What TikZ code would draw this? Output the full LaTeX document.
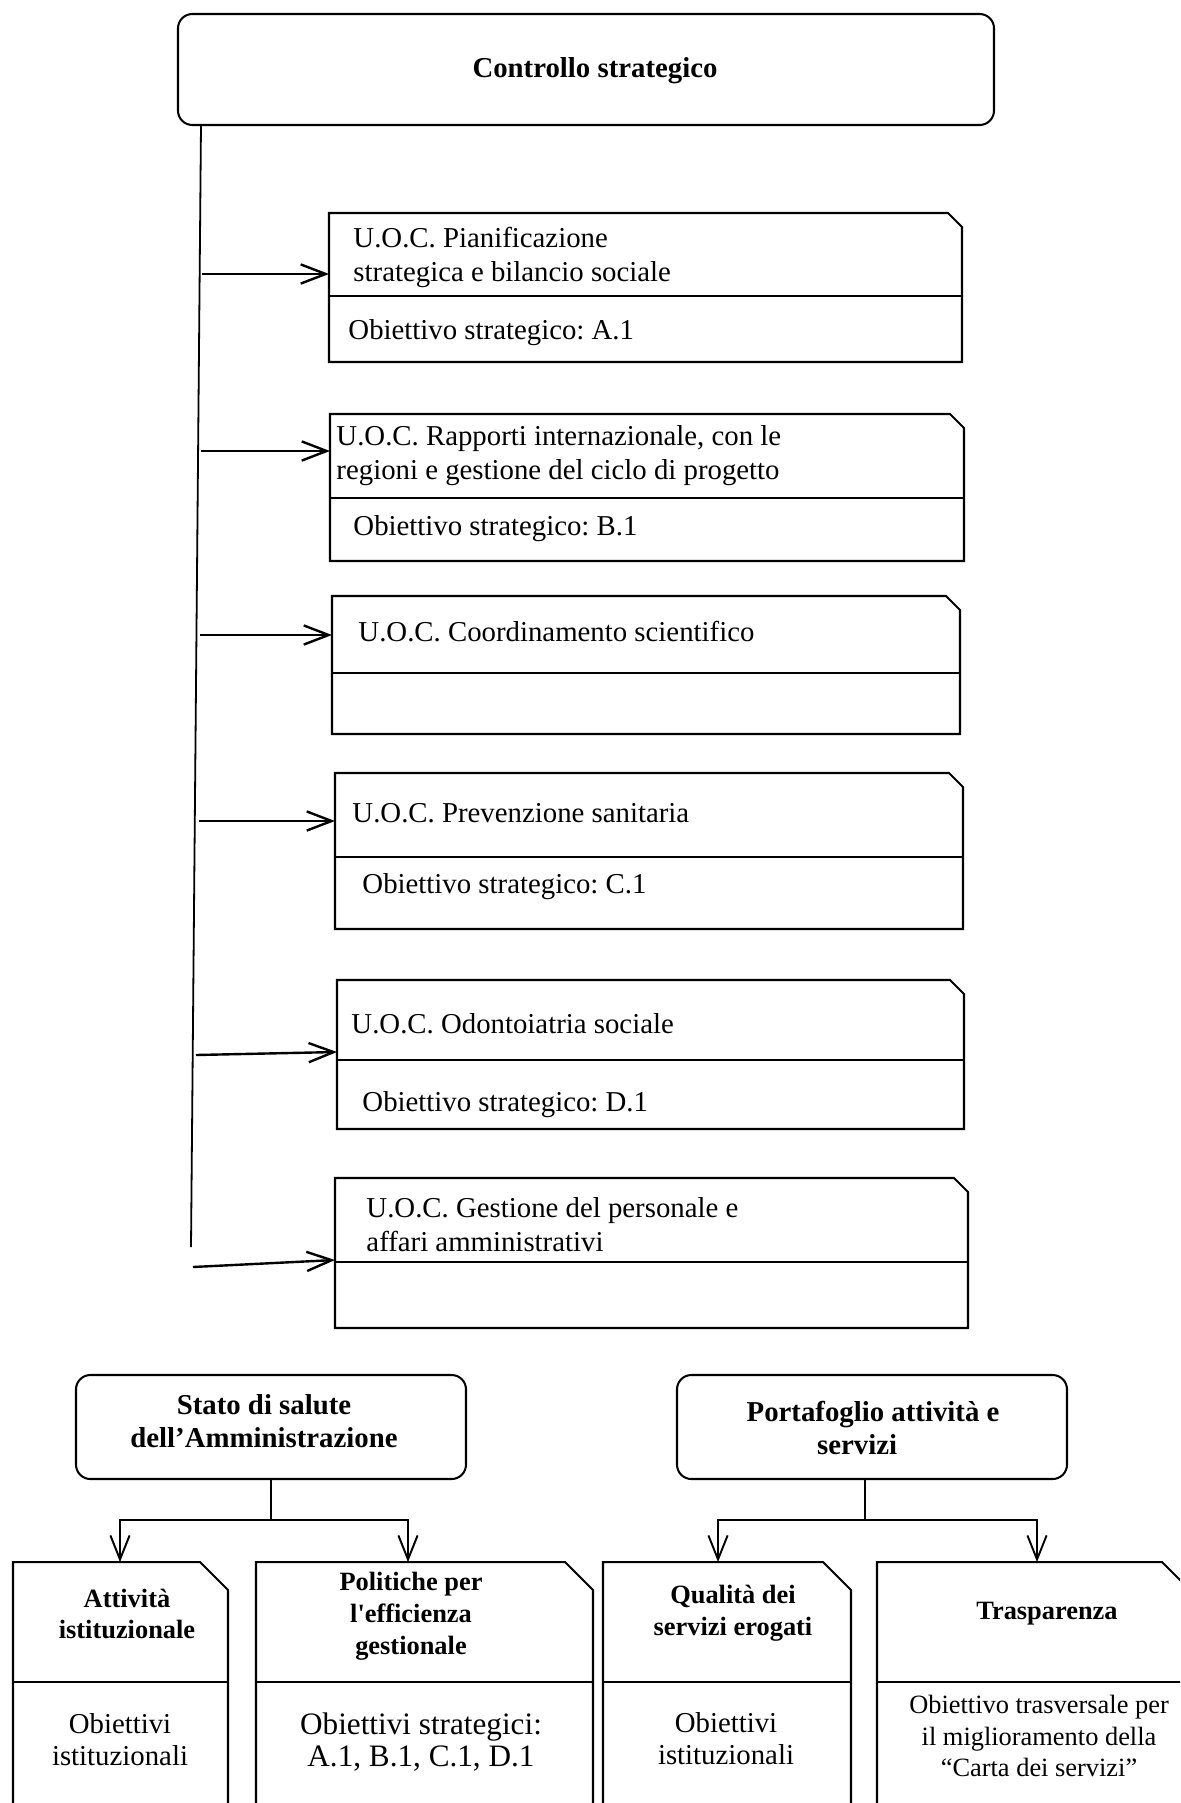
\documentclass[tikz,border=0pt]{standalone}
\usepackage{fontspec}
\setmainfont{Liberation Serif}
\usetikzlibrary{arrows.meta}
\frenchspacing

% one drawing unit = one pixel of the final image
\newcommand{\pxu}{0.416667pt}

\tikzset{
  boxline/.style={line width=0.85pt, line join=miter},
  rbox/.style={draw, line width=0.85pt, rounded corners=6pt, inner sep=0pt},
  trunk/.style={line width=0.75pt},
  arr/.style={line width=1pt, -{Straight Barb[length=10.4pt,width=8pt,line width=1pt]}},
  darr/.style={line width=0.8pt, -{Straight Barb[length=10pt,width=8pt,line width=0.8pt]}},
  uoc/.style={font=\fontsize{12}{14.17}\selectfont, inner sep=0pt, anchor=west, align=left},
  hdr/.style={font=\fontsize{12}{13.8}\selectfont\bfseries, inner sep=0pt, align=center},
  sub/.style={font=\fontsize{11}{13.3}\selectfont\bfseries, inner sep=0pt, align=center},
  note/.style={font=\fontsize{12}{13.3}\selectfont, inner sep=0pt, align=center},
}

% card with a chamfered top-right corner and a horizontal divider
% #1 name, #2 left, #3 top, #4 right, #5 bottom, #6 divider, #7 chamfer
\newcommand{\cardbox}[7]{%
  \draw[boxline] (#2,#5) -- (#2,#3) -- ({#4-#7},#3) -- (#4,{#3+#7}) -- (#4,#5) -- cycle;
  \draw[boxline] (#2,#6) -- (#4,#6);
  \coordinate (#1) at (#2,#3);
}

\begin{document}
\begin{tikzpicture}[x=\pxu, y=-\pxu]
\useasboundingbox (0,0) rectangle (1180,1803);
\clip (0,0) rectangle (1180,1803);

% ---------------- strategic control ----------------
\node[rbox, minimum width=816*\pxu, minimum height=111*\pxu] (ctrl) at (586,69.5) {};
\node[hdr] (ctrlT) at (595,71) {Controllo strategico};

\coordinate (tk0) at (201,125);
\coordinate (tk1) at (191,1247);
\draw[trunk] (tk0) -- (tk1);

% units
\cardbox{b1}{329}{213}{962}{362}{296}{14}
\node[uoc] (b1t) at (353,257) {U.O.C. Pianificazione\\strategica e bilancio sociale};
\node[uoc] (b1o) at (348,333) {Obiettivo strategico: A.1};

\cardbox{b2}{330}{414}{964}{561}{498}{14}
\node[uoc] (b2t) at (336,455.5) {U.O.C. Rapporti internazionale, con le\\regioni e gestione del ciclo di progetto};
\node[uoc] (b2o) at (353,529) {Obiettivo strategico: B.1};

\cardbox{b3}{332}{596}{960}{734}{673}{14}
\node[uoc] (b3t) at (358,632) {U.O.C. Coordinamento scientifico};

\cardbox{b4}{335}{773}{963}{929}{857}{14}
\node[uoc] (b4t) at (352,813) {U.O.C. Prevenzione sanitaria};
\node[uoc] (b4o) at (362,887) {Obiettivo strategico: C.1};

\cardbox{b5}{337}{980}{964}{1129}{1060}{14}
\node[uoc] (b5t) at (351,1024) {U.O.C. Odontoiatria sociale};
\node[uoc] (b5o) at (362,1105) {Obiettivo strategico: D.1};

\cardbox{b6}{335}{1178}{968}{1328}{1262}{14}
\node[uoc] (b6t) at (366,1225) {U.O.C. Gestione del personale e\\affari amministrativi};

% arrows from the trunk to the units
\coordinate (s1) at (202,274);  \coordinate (e1) at (329,274);
\coordinate (s2) at (201,451);  \coordinate (e2) at (330,451);
\coordinate (s3) at (200,635);  \coordinate (e3) at (332,635);
\coordinate (s4) at (199,821);  \coordinate (e4) at (335,821);
\coordinate (s5) at (196,1055); \coordinate (e5) at (337,1052);
\coordinate (s6) at (193,1267); \coordinate (e6) at (335,1260);
\foreach \i in {1,...,6} { \draw[arr] (s\i) -- (e\i); }

% ---------------- lower section ----------------
\node[rbox, minimum width=390*\pxu, minimum height=104*\pxu] (stato) at (271,1427) {};
\node[hdr] (statoT) at (264,1421) {Stato di salute\\dell’Amministrazione};

\node[rbox, minimum width=390*\pxu, minimum height=104*\pxu] (port) at (872,1427) {};
\node[hdr] (portT) at (873,1428) {Portafoglio attività e\\servizi\hspace*{1.1em}};

% lower cards (they run past the bottom edge)
\cardbox{c1}{13}{1562}{228}{1830}{1682}{28}
\cardbox{c2}{256}{1562}{593}{1830}{1682}{28}
\cardbox{c3}{603}{1562}{851}{1830}{1682}{28}
\cardbox{c4}{877}{1562}{1190}{1830}{1682}{28}

\node[sub] (c1t) at (127,1614) {Attività\\istituzionale};
\node[sub] (c2t) at (411,1616) {Politiche per\\l\textquotesingle efficienza\\gestionale};
\node[sub] (c3t) at (733,1613) {Qualità dei\\servizi erogati};
\node[sub] (c4t) at (1047,1614) {Trasparenza};

\node[note] (c1o) at (120,1740) {Obiettivi\\istituzionali};
\node[note, font=\fontsize{13}{13.5}\selectfont] (c2o) at (421,1742) {Obiettivi strategici:\\A.1, B.1, C.1, D.1};
\node[note] (c3o) at (726,1739) {Obiettivi\\istituzionali};
\node[note, font=\fontsize{11}{13}\selectfont] (c4o) at (1039,1736) {Obiettivo trasversale per\\il miglioramento della\\``Carta dei servizi''};

% branching connectors
\coordinate (c1in) at (120,1562);
\coordinate (c2in) at (408,1562);
\coordinate (c3in) at (718,1562);
\coordinate (c4in) at (1037,1562);
\coordinate (pStem) at (865,1479);

\draw[darr] (stato.south) -- (271,1520) -| (c1in);
\draw[darr] (stato.south) -- (271,1520) -| (c2in);
\draw[darr] (pStem) -- (865,1520) -| (c3in);
\draw[darr] (pStem) -- (865,1520) -| (c4in);

\end{tikzpicture}
\end{document}
